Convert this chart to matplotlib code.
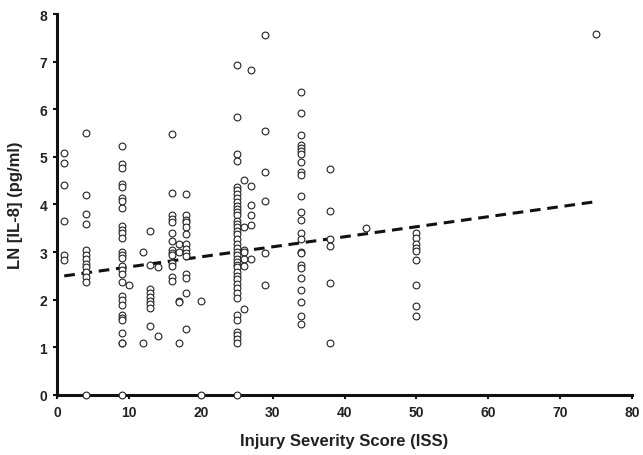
import matplotlib
matplotlib.use("Agg")
import matplotlib.pyplot as plt

plt.rcParams['font.family'] = ['Liberation Sans', 'DejaVu Sans']

# ISS columns and LN[IL-8] values
iss_1 = [5.08, 4.87, 4.41, 3.65, 2.93, 2.84]
iss_4 = [5.50, 4.19, 3.79, 3.60, 3.05, 2.95, 2.85, 2.75, 2.68, 2.58, 2.47, 2.37, 0.0]
iss_9 = [5.23, 4.86, 4.76, 4.43, 4.36, 4.14, 4.08, 3.93, 3.54, 3.46, 3.40, 3.29, 3.00, 2.93,
         2.88, 2.70, 2.62, 2.54, 2.38, 2.07, 2.00, 1.90, 1.68, 1.62, 1.58, 1.30, 1.10, 1.09, 0.0]
iss_10 = [2.30]
iss_12 = [3.00, 1.10]
iss_13 = [3.45, 2.72, 2.22, 2.14, 2.06, 1.98, 1.91, 1.82, 1.45]
iss_14 = [2.68, 1.24]
iss_16 = [5.48, 4.24, 3.77, 3.70, 3.63, 3.40, 3.24, 3.05, 2.98, 2.94, 2.77, 2.70, 2.47, 2.40]
iss_17 = [3.17, 3.00, 1.98, 1.95, 1.10]
iss_18 = [4.22, 3.77, 3.68, 3.63, 3.52, 3.38, 3.17, 3.07, 2.98, 2.91, 2.54, 2.45, 2.14, 1.39]
iss_20 = [1.97, 0.0]
iss_25 = [6.92, 5.84, 5.07, 4.92, 4.36, 4.30, 4.22, 4.14, 4.06, 3.96, 3.91, 3.84, 3.77, 3.66,
          3.58, 3.52, 3.45, 3.38, 3.28, 3.18, 3.08, 3.00, 2.93, 2.86, 2.80, 2.74, 2.68, 2.58,
          2.50, 2.44, 2.33, 2.24, 2.14, 2.03, 1.67, 1.58, 1.33, 1.25, 1.17, 1.09, 0.0]
iss_26 = [4.52, 3.52, 3.05, 3.00, 2.86, 2.70, 1.81]
iss_27 = [6.83, 4.38, 3.98, 3.78, 3.56, 2.86]
iss_29 = [7.55, 5.54, 4.68, 4.08, 2.98, 2.30]
iss_34 = [6.36, 5.92, 5.46, 5.25, 5.19, 5.12, 5.05, 4.90, 4.68, 4.61, 4.17, 3.84, 3.68, 3.40,
          3.28, 3.01, 2.98, 2.73, 2.66, 2.46, 2.21, 1.96, 1.65, 1.49]
iss_38 = [4.74, 3.87, 3.28, 3.12, 2.35, 1.09]
iss_43 = [3.51]
iss_50 = [3.40, 3.30, 3.18, 3.08, 3.03, 2.84, 2.32, 1.86, 1.65]
iss_75 = [7.58]

columns = {1: iss_1, 4: iss_4, 9: iss_9, 10: iss_10, 12: iss_12, 13: iss_13, 14: iss_14,
           16: iss_16, 17: iss_17, 18: iss_18, 20: iss_20, 25: iss_25, 26: iss_26,
           27: iss_27, 29: iss_29, 34: iss_34, 38: iss_38, 43: iss_43, 50: iss_50, 75: iss_75}

trend_x = [1, 75]
trend_y = [2.50, 4.06]

x_ticks = [0, 10, 20, 30, 40, 50, 60, 70, 80]
y_ticks = [0, 1, 2, 3, 4, 5, 6, 7, 8]

xs, ys = [], []
for k, vals in columns.items():
    xs += [k] * len(vals)
    ys += vals

fig = plt.figure(figsize=(6.43, 4.56), dpi=100)
ax = fig.add_axes([0.0887, 0.1316, 0.8942, 0.8355])

ax.plot(trend_x, trend_y, color='#111111', lw=2.2, dashes=(3.5, 2.2), zorder=2)
ax.scatter(xs, ys, s=24, facecolors='white', edgecolors='#222222', linewidths=0.8,
           zorder=3, clip_on=False)

ax.set_xlim(0, 80)
ax.set_ylim(0, 8)
ax.set_xticks(x_ticks)
ax.set_yticks(y_ticks)
for s in ['top', 'right']:
    ax.spines[s].set_visible(False)
for s in ['left', 'bottom']:
    ax.spines[s].set_linewidth(2.2)
    ax.spines[s].set_color('#111111')
ax.tick_params(direction='out', length=3, width=1.5, color='#111111',
               labelsize=10, pad=4)
for lab in ax.get_xticklabels() + ax.get_yticklabels():
    lab.set_fontweight('bold')
    lab.set_color('#222222')

ax.set_xlabel('Injury Severity Score (ISS)', fontsize=12, fontweight='bold',
              color='#222222', labelpad=10)
ax.set_ylabel('LN [IL-8] (pg/ml)', fontsize=12, fontweight='bold',
              color='#222222', labelpad=12)

fig.savefig('out.png', dpi=100)
